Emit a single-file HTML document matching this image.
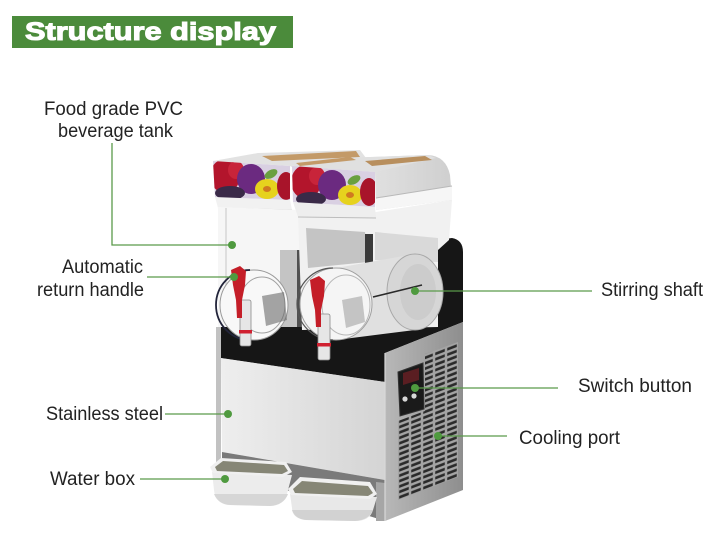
<!DOCTYPE html>
<html><head><meta charset="utf-8"><style>
html,body{margin:0;padding:0;background:#fff;}
svg{display:block;}
text{font-family:"Liberation Sans",Arial,sans-serif;}
</style></head><body>
<svg width="720" height="535" viewBox="0 0 720 535" xmlns="http://www.w3.org/2000/svg">
<defs>
  <pattern id="vent" patternUnits="userSpaceOnUse" x="398" y="0" width="12" height="5.4" patternTransform="skewY(-21)">
    <rect x="0" y="0" width="12" height="5.4" fill="#a4a4a4"/>
    <rect x="1.2" y="1.2" width="9.6" height="2.8" fill="#2a2a2a"/>
  </pattern>
  <linearGradient id="front" x1="0" y1="0" x2="1" y2="0">
    <stop offset="0" stop-color="#eeeeee"/><stop offset="1" stop-color="#d4d4d4"/>
  </linearGradient>
  <linearGradient id="side" x1="0" y1="0" x2="1" y2="0">
    <stop offset="0" stop-color="#b8b8b8"/><stop offset="1" stop-color="#8e8e8e"/>
  </linearGradient>
  <linearGradient id="lidside" x1="0" y1="0" x2="1" y2="0">
    <stop offset="0" stop-color="#f2f2f2"/><stop offset="1" stop-color="#cfcfcf"/>
  </linearGradient>
  <clipPath id="p1"><polygon points="213,161 290,166 290,200 215,197"/></clipPath>
  <clipPath id="p2"><polygon points="292,166 375,172 375,207 293,202"/></clipPath>
</defs>

<rect width="720" height="535" fill="#fff"/>

<!-- Title -->
<rect x="12" y="16" width="281" height="32" fill="#4b8b3b"/>
<text x="25" y="40" font-size="25" font-weight="bold" fill="#fff" stroke="#fff" stroke-width="1.1" textLength="251" lengthAdjust="spacingAndGlyphs">Structure display</text>

<!-- ===== Machine ===== -->
<!-- lid 1 top -->
<polygon points="213,161 258,153 360,150 366,158 292,167 290,166" fill="#e2e2e2"/>
<polygon points="262,156 356,151 360,157 272,161" fill="#c39a68"/>
<!-- lid 1 base -->
<polygon points="215,197 290,200 292,210 218,208" fill="#f1f1f1"/>
<line x1="218" y1="208" x2="292" y2="210" stroke="#c4c4c4" stroke-width="1"/>

<!-- tank 1 -->
<polygon points="218,207 300,210 305,330 218,330" fill="#f6f6f6"/>
<line x1="226" y1="208" x2="226" y2="300" stroke="#cfcfcf" stroke-width="1.2"/>
<rect x="280" y="250" width="22" height="78" fill="#9a9a9a" opacity="0.55"/>
<rect x="297" y="250" width="7" height="78" fill="#333" opacity="0.8"/>

<!-- black back / band -->
<path d="M218,327 L436,327 L436,240 L452,238 Q463,240 463,252 L463,322 L385,353 L385,382 L220,358 Z" fill="#161616"/>

<!-- tank 2 body -->
<polygon points="298,214 376,212 452,200 449,240 438,250 438,327 302,330" fill="#f1f1f1"/>
<polygon points="306,228 365,232 368,262 308,268" fill="#c4c4c4"/>
<rect x="365" y="234" width="8" height="46" fill="#3a3a3a"/>
<polygon points="375,232 438,238 438,262 375,260" fill="#d9d9d9"/>

<!-- tank 2 cylinder -->
<path d="M336,268 L415,254 L415,330 L336,340 Z" fill="#e0e0e0"/>
<ellipse cx="415" cy="292" rx="28" ry="38" fill="#d6d6d6" stroke="#a8a8a8" stroke-width="1"/>
<ellipse cx="418" cy="292" rx="18" ry="28" fill="#c8c8c8" opacity="0.7"/>
<line x1="373" y1="297" x2="422" y2="285" stroke="#2a2a2a" stroke-width="1.6"/>

<!-- bowl 1 -->
<ellipse cx="254" cy="305" rx="34" ry="35" fill="#f8f8f8" stroke="#9a9a9a" stroke-width="1"/>
<path d="M250,270 A34,35 0 0 0 250,340" fill="none" stroke="#22243a" stroke-width="1.8"/>
<ellipse cx="262" cy="305" rx="23" ry="28" fill="none" stroke="#a0a0a0" stroke-width="1"/>
<polygon points="262,296 284,292 287,320 266,326" fill="#6a6a6a" opacity="0.6"/>

<!-- bowl 2 -->
<ellipse cx="336" cy="304" rx="36" ry="36" fill="#f5f5f5" stroke="#a0a0a0" stroke-width="1"/>
<path d="M333,268 A36,36 0 0 0 333,340" fill="none" stroke="#555" stroke-width="1.2"/>
<ellipse cx="346" cy="305" rx="24" ry="30" fill="none" stroke="#b8b8b8" stroke-width="1"/>
<polygon points="342,300 362,296 365,322 346,328" fill="#8a8a8a" opacity="0.45"/>

<!-- spigot 1 -->
<rect x="240" y="300" width="11" height="46" rx="2" fill="#e6e6e6" stroke="#8a8a8a" stroke-width="0.8"/>
<rect x="239" y="330" width="13" height="3.5" fill="#d02030"/>
<polygon points="231,270 240,266 246,271 245,285 242,300 242,318 237,318 236,300 233,285" fill="#c41e28"/>
<!-- spigot 2 -->
<rect x="318" y="314" width="12" height="46" rx="2" fill="#e6e6e6" stroke="#8a8a8a" stroke-width="0.8"/>
<rect x="317" y="343" width="14" height="3.5" fill="#d02030"/>
<polygon points="310,280 319,276 325,281 324,296 321,310 321,327 316,327 315,310 312,296" fill="#c41e28"/>

<!-- lid 2 -->
<path d="M292,166 L340,158 L428,155 Q446,156 450,175 L452,200 L376,210 L375,172 Z" fill="url(#lidside)"/>
<polygon points="292,166 340,158 428,155 436,158 375,172" fill="#e0e0e0"/>
<polygon points="365,161 425,156 432,160 372,166" fill="#b88f5e"/>
<polygon points="296,163 350,157 356,160 300,166" fill="#c39a68"/>
<polygon points="376,198 452,186 452,200 376,210" fill="#f6f6f6"/>
<line x1="376" y1="198" x2="452" y2="186" stroke="#b8b8b8" stroke-width="1"/>
<polygon points="293,202 375,207 376,218 298,217" fill="#eeeeee"/>
<line x1="298" y1="217" x2="376" y2="218" stroke="#bdbdbd" stroke-width="1"/>

<!-- fruit panel 1 -->
<g clip-path="url(#p1)">
  <rect x="210" y="158" width="85" height="45" fill="#d9d0e2"/>
  <ellipse cx="225" cy="176" rx="15" ry="17" fill="#b3152c"/>
  <ellipse cx="236" cy="170" rx="8" ry="9" fill="#c8243a"/>
  <ellipse cx="251" cy="179" rx="14" ry="15" fill="#6b2a80"/>
  <ellipse cx="230" cy="193" rx="15" ry="7" fill="#3a2a48"/>
  <ellipse cx="271" cy="174" rx="7" ry="4" fill="#6aa040" transform="rotate(-30 271 174)"/>
  <ellipse cx="267" cy="189" rx="12" ry="10" fill="#e6d21e"/>
  <ellipse cx="267" cy="189" rx="4" ry="3" fill="#d07a20"/>
  <ellipse cx="286" cy="186" rx="9" ry="14" fill="#a8142a"/>
</g>
<!-- fruit panel 2 -->
<g clip-path="url(#p2)">
  <rect x="290" y="164" width="90" height="46" fill="#d9d0e2"/>
  <ellipse cx="306" cy="182" rx="15" ry="17" fill="#b3152c"/>
  <ellipse cx="317" cy="176" rx="8" ry="9" fill="#c8243a"/>
  <ellipse cx="332" cy="185" rx="14" ry="15" fill="#6b2a80"/>
  <ellipse cx="311" cy="199" rx="15" ry="7" fill="#3a2a48"/>
  <ellipse cx="354" cy="180" rx="7" ry="4" fill="#6aa040" transform="rotate(-30 354 180)"/>
  <ellipse cx="350" cy="195" rx="12" ry="10" fill="#e6d21e"/>
  <ellipse cx="350" cy="195" rx="4" ry="3" fill="#d07a20"/>
  <ellipse cx="369" cy="192" rx="9" ry="14" fill="#a8142a"/>
</g>

<!-- body left edge -->
<rect x="216" y="327" width="5" height="135" fill="#c2c2c2"/>
<!-- front panel -->
<polygon points="221,358 385,382 385,480 222,452" fill="url(#front)"/>
<!-- recess below front -->
<polygon points="222,452 385,480 385,521 222,470" fill="#7a7a7a"/>
<polygon points="376,482 385,483 385,521 376,521" fill="#a6a6a6"/>

<!-- side panel -->
<polygon points="385,353 463,322 463,490 385,521" fill="url(#side)"/>
<polygon points="425,354 458,342 458,477 398,500 398,421 425,411" fill="url(#vent)"/>
<line x1="385" y1="353" x2="385" y2="521" stroke="#d8d8d8" stroke-width="1.2"/>
<!-- control panel -->
<polygon points="398,372 423,363 424,409 400,416" fill="#1a1a1a" stroke="#333" stroke-width="1"/>
<polygon points="403,373 419,368 419,380 403,385" fill="#5a1e22"/>
<circle cx="405" cy="399" r="2.6" fill="#d8d8d8"/>
<circle cx="414" cy="396" r="2.6" fill="#d8d8d8"/>

<!-- water box 1 -->
<path d="M212,472 L292,475 L288,490 Q285,506 270,506 L228,505 Q215,503 214,490 Z" fill="#ececec"/>
<path d="M214,494 Q218,504 230,505 L270,506 Q284,505 288,494 Z" fill="#d6d6d6"/>
<polygon points="210,467 221,458 286,462 292,472 283,477 213,473" fill="#f0f0f0"/>
<polygon points="215,467 223,461 284,465 288,471 282,474 217,471" fill="#868676"/>
<!-- water box 2 -->
<path d="M290,494 L377,497 L373,510 Q370,521 355,521 L305,520 Q292,518 292,508 Z" fill="#e8e8e8"/>
<path d="M292,510 Q295,519 306,520 L355,521 Q369,520 373,510 Z" fill="#d2d2d2"/>
<polygon points="288,489 300,477 370,482 377,494 370,499 291,495" fill="#f0f0f0"/>
<polygon points="293,489 302,481 368,486 373,493 368,496 295,493" fill="#868676"/>

<!-- ===== Labels ===== -->
<g font-size="19" fill="#222">
  <text x="44" y="115" textLength="139" lengthAdjust="spacingAndGlyphs">Food grade PVC</text>
  <text x="58" y="137" textLength="115" lengthAdjust="spacingAndGlyphs">beverage tank</text>
  <text x="62" y="273" textLength="81" lengthAdjust="spacingAndGlyphs">Automatic</text>
  <text x="37" y="296" textLength="107" lengthAdjust="spacingAndGlyphs">return handle</text>
  <text x="46" y="420" textLength="117" lengthAdjust="spacingAndGlyphs">Stainless steel</text>
  <text x="50" y="485" textLength="85" lengthAdjust="spacingAndGlyphs">Water box</text>
  <text x="601" y="296" textLength="102" lengthAdjust="spacingAndGlyphs">Stirring shaft</text>
  <text x="578" y="392" textLength="114" lengthAdjust="spacingAndGlyphs">Switch button</text>
  <text x="519" y="444" textLength="101" lengthAdjust="spacingAndGlyphs">Cooling port</text>
</g>

<!-- connectors -->
<g stroke="#5a9a4a" stroke-width="1.3" fill="none">
  <polyline points="112,143 112,245 232,245"/>
  <line x1="147" y1="277" x2="234" y2="277"/>
  <line x1="165" y1="414" x2="228" y2="414"/>
  <line x1="140" y1="479" x2="225" y2="479"/>
  <line x1="415" y1="291" x2="592" y2="291"/>
  <line x1="415" y1="388" x2="558" y2="388"/>
  <line x1="438" y1="436" x2="507" y2="436"/>
</g>
<g fill="#4f9a3f">
  <circle cx="232" cy="245" r="4"/>
  <circle cx="234" cy="277" r="4"/>
  <circle cx="228" cy="414" r="4"/>
  <circle cx="225" cy="479" r="4"/>
  <circle cx="415" cy="291" r="4"/>
  <circle cx="415" cy="388" r="4"/>
  <circle cx="438" cy="436" r="4"/>
</g>
</svg>
</body></html>
